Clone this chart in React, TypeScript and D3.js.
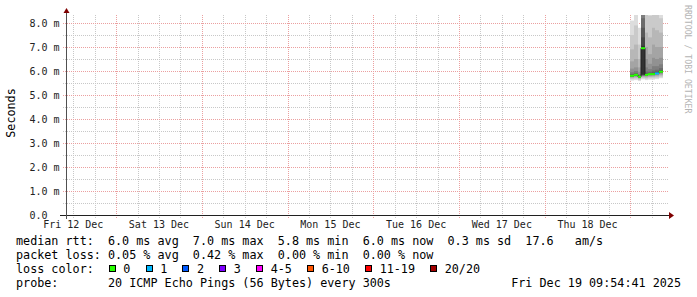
import React from 'react';
import * as d3 from 'd3';

// ---------- data ----------
const START = Date.UTC(2025, 11, 12, 10, 15);
const END = Date.UTC(2025, 11, 19, 10, 15);

const dayLabels = ['Fri 12 Dec', 'Sat 13 Dec', 'Sun 14 Dec', 'Mon 15 Dec', 'Tue 16 Dec', 'Wed 17 Dec', 'Thu 18 Dec'];
const dayNumbers = [12, 13, 14, 15, 16, 17, 18];

const yTickValues = [0, 1, 2, 3, 4, 5, 6, 7, 8];
const yTickLabels = ['0.0', '1.0 m', '2.0 m', '3.0 m', '4.0 m', '5.0 m', '6.0 m', '7.0 m', '8.0 m'];

// hourly samples on Fri 19 Dec (hour of day)
const sampleHours = [0, 1, 2, 3, 4, 5, 6, 7, 8];
// median rtt (ms)
const medians = [5.8, 5.84, 5.76, 6.95, 5.84, 5.87, 5.87, 5.9, 5.97];
// packets lost out of 20
const losses = [0, 0, 0, 0, 0, 0, 0, 1, 0];
// 20 sorted ping times per sample (ms)
const pings = [
  [5.6, 5.66, 5.7, 5.73, 5.75, 5.77, 5.78, 5.79, 5.8, 5.8, 5.81, 5.82, 5.84, 5.88, 5.95, 6.1, 6.4, 6.9, 7.5, 8.1],
  [5.62, 5.68, 5.72, 5.75, 5.78, 5.8, 5.81, 5.82, 5.83, 5.84, 5.85, 5.86, 5.88, 5.92, 6.0, 6.15, 6.5, 7.1, 7.9, 8.6],
  [5.58, 5.63, 5.67, 5.7, 5.72, 5.73, 5.74, 5.75, 5.76, 5.76, 5.77, 5.78, 5.79, 5.82, 5.87, 5.97, 6.15, 6.5, 7.1, 7.8],
  [5.65, 5.7, 5.74, 5.77, 5.79, 5.8, 5.82, 5.83, 5.84, 5.86, 7.05, 7.4, 7.8, 8.2, 8.6, 9.0, 9.5, 10, 11, 12],
  [5.62, 5.68, 5.72, 5.76, 5.79, 5.81, 5.82, 5.83, 5.84, 5.84, 5.85, 5.87, 5.9, 5.98, 6.15, 6.5, 7.0, 7.6, 8.4, 9.0],
  [5.64, 5.7, 5.75, 5.78, 5.81, 5.83, 5.85, 5.86, 5.87, 5.87, 5.88, 5.89, 5.92, 5.97, 6.08, 6.3, 6.7, 7.4, 8.3, 8.9],
  [5.64, 5.7, 5.75, 5.79, 5.82, 5.84, 5.85, 5.86, 5.87, 5.87, 5.88, 5.9, 5.94, 6.02, 6.2, 6.55, 7.1, 7.8, 8.5, 9.1],
  [5.66, 5.72, 5.77, 5.81, 5.84, 5.86, 5.88, 5.89, 5.9, 5.9, 5.91, 5.93, 5.97, 6.05, 6.2, 6.5, 7.0, 7.7, 8.5, 9.0],
  [5.7, 5.76, 5.81, 5.85, 5.89, 5.92, 5.94, 5.96, 5.97, 5.97, 5.98, 6.0, 6.04, 6.12, 6.28, 6.55, 7.0, 7.6, 8.2, 8.4],
];

const lossLabels = ['0', '1', '2', '3', '4-5', '6-10', '11-19', '20/20'];
const lossColors = ['#26ff00', '#00b8ff', '#0059ff', '#7e00ff', '#ff00ff', '#ff5500', '#ff0000', '#a10000'];
const lossThresholds = [0, 1, 2, 3, 5, 10, 19, 20];

const legendRtt = 'median rtt:  6.0 ms avg  7.0 ms max  5.8 ms min  6.0 ms now  0.3 ms sd  17.6   am/s';
const legendLoss = 'packet loss: 0.05 % avg  0.42 % max  0.00 % min  0.00 % now';
const legendLossColor = 'loss color:';
const legendProbe = 'probe:       20 ICMP Echo Pings (56 Bytes) every 300s';
const legendDate = 'Fri Dec 19 09:54:41 2025';
const yAxisTitle = 'Seconds';
const watermark = 'RRDTOOL / TOBI OETIKER';

// ---------- chart ----------
const W = 697;
const H = 297;
const MONO = "'DejaVu Sans Mono', monospace";

function lossColor(l: number) {
  const i = lossThresholds.findIndex((t) => l <= t);
  return lossColors[i < 0 ? lossColors.length - 1 : i];
}

const pre = (s: string) => s.replace(/ /g, '\u00a0');

export default function App() {
  const x = d3.scaleUtc().domain([START, END]).range([67, 667]);
  const y = d3.scaleLinear().domain([0, 25 / 3]).range([215, 15]);
  const px = (v: number) => Math.round(v) + 0.5;

  const hGrid = d3.range(1, 17).map((k) => k * 0.5);
  const vGrid = d3.utcHour.every(6)!.range(new Date(START), new Date(END));

  const hourT = (h: number) => Date.UTC(2025, 11, 19, h);

  const medianPts: [number, number][] = sampleHours.map((h, i) => [Math.round(x(hourT(h))), y(medians[i])]);
  medianPts.push([Math.round(x(hourT(sampleHours[sampleHours.length - 1] + 1))), y(medians[medians.length - 1])]);
  const stepLine = d3.line().curve(d3.curveStepAfter)(medianPts) || '';

  // legend item layout
  const cw = 7.05;
  let bx = 108.7;
  const legendItems = lossLabels.map((lab, i) => {
    const item = { lab, color: lossColors[i], bx, tx: bx + 14.6 };
    bx = bx + 14.6 + lab.length * cw + 15.2;
    return item;
  });

  return (
    <svg width={W} height={H} style={{ position: 'absolute', left: 0, top: 0, background: '#fff' }}>
      <defs>
        <clipPath id="plot">
          <rect x={67} y={15} width={600} height={200} />
        </clipPath>
      </defs>
      <rect x={0} y={0} width={W} height={H} fill="#fff" />

      {/* minor grid */}
      {hGrid.filter((v) => v % 1 !== 0).map((v) => (
        <line key={'hm' + v} x1={63} x2={668} y1={px(y(v))} y2={px(y(v))} stroke="#c8c8c8" strokeDasharray="1,1" />
      ))}
      {vGrid.filter((d) => d.getUTCHours() !== 0).map((d) => (
        <line key={'vm' + +d} x1={px(x(d))} x2={px(x(d))} y1={15} y2={218} stroke="#c8c8c8" strokeDasharray="1,1" />
      ))}
      {/* major grid */}
      {hGrid.filter((v) => v % 1 === 0).map((v) => (
        <line key={'hM' + v} x1={63} x2={668} y1={px(y(v))} y2={px(y(v))} stroke="#eba0a0" strokeDasharray="1,1" />
      ))}
      {vGrid.filter((d) => d.getUTCHours() === 0).map((d) => (
        <line key={'vM' + +d} x1={px(x(d))} x2={px(x(d))} y1={15} y2={218} stroke="#eba0a0" strokeDasharray="1,1" />
      ))}

      {/* smoke */}
      <g clipPath="url(#plot)">
        {sampleHours.map((h, i) => {
          const x0 = Math.round(x(hourT(h)));
          const x1 = Math.round(x(hourT(h + 1)));
          const p = pings[i];
          const half = p.length / 2;
          return d3.range(half).map((b) => {
            const g = Math.floor((190 / half) * (half - (b + 1))) + 50;
            const lo = p[b];
            const hi = p[p.length - 1 - b];
            return (
              <rect
                key={'s' + i + '-' + b}
                x={x0}
                width={x1 - x0}
                y={y(hi)}
                height={y(lo) - y(hi)}
                fill={d3.rgb(g, g, g).formatHex()}
              />
            );
          });
        })}
        <path d={stepLine} fill="none" stroke="#202020" strokeWidth={1} />
        {sampleHours.map((h, i) => (
          <line
            key={'m' + i}
            x1={Math.round(x(hourT(h)))}
            x2={Math.round(x(hourT(h + 1)))}
            y1={y(medians[i])}
            y2={y(medians[i])}
            stroke={lossColor(losses[i])}
            strokeWidth={2}
          />
        ))}
      </g>

      {/* axes */}
      <line x1={60} x2={670} y1={215.5} y2={215.5} stroke="#202020" />
      <line x1={66.5} x2={66.5} y1={219} y2={12} stroke="#505050" />
      <path d="M669,212 L674,215.5 L669,219 Z" fill="#7f0000" />
      <path d="M63.5,13 L66.5,8 L69.5,13 Z" fill="#7f0000" />

      {/* y tick labels */}
      {yTickValues.map((v, i) => (
        <text key={'yl' + v} x={29.5} y={y(v) + 4} fontFamily={MONO} fontSize={10} fill="#222">
          {pre(yTickLabels[i])}
        </text>
      ))}
      {/* x labels */}
      {dayNumbers.map((d, i) => (
        <text
          key={'xl' + d}
          x={x(Date.UTC(2025, 11, d, 12))}
          y={228}
          textAnchor="middle"
          fontFamily={MONO}
          fontSize={10}
          fill="#222"
        >
          {pre(dayLabels[i])}
        </text>
      ))}

      {/* titles */}
      <text transform="translate(15,113) rotate(-90)" textAnchor="middle" fontFamily={MONO} fontSize={11.75} fill="#000">
        {yAxisTitle}
      </text>
      <text transform="translate(685,5) rotate(90)" fontFamily={MONO} fontSize={8.2} fill="#b4b4b4">
        {pre(watermark)}
      </text>

      {/* legend */}
      <g fontFamily={MONO} fontSize={11.75} fill="#000">
        <text x={16} y={245}>{pre(legendRtt)}</text>
        <text x={16} y={259}>{pre(legendLoss)}</text>
        <text x={16} y={273}>{pre(legendLossColor)}</text>
        {legendItems.map((it) => (
          <g key={'li' + it.lab}>
            <rect x={Math.round(it.bx) + 0.5} y={265.5} width={6} height={6} fill={it.color} stroke="#000" />
            <text x={it.tx} y={273}>{pre(it.lab)}</text>
          </g>
        ))}
        <text x={16} y={287}>{pre(legendProbe)}</text>
        <text x={681} y={287} textAnchor="end">{pre(legendDate)}</text>
      </g>
    </svg>
  );
}
